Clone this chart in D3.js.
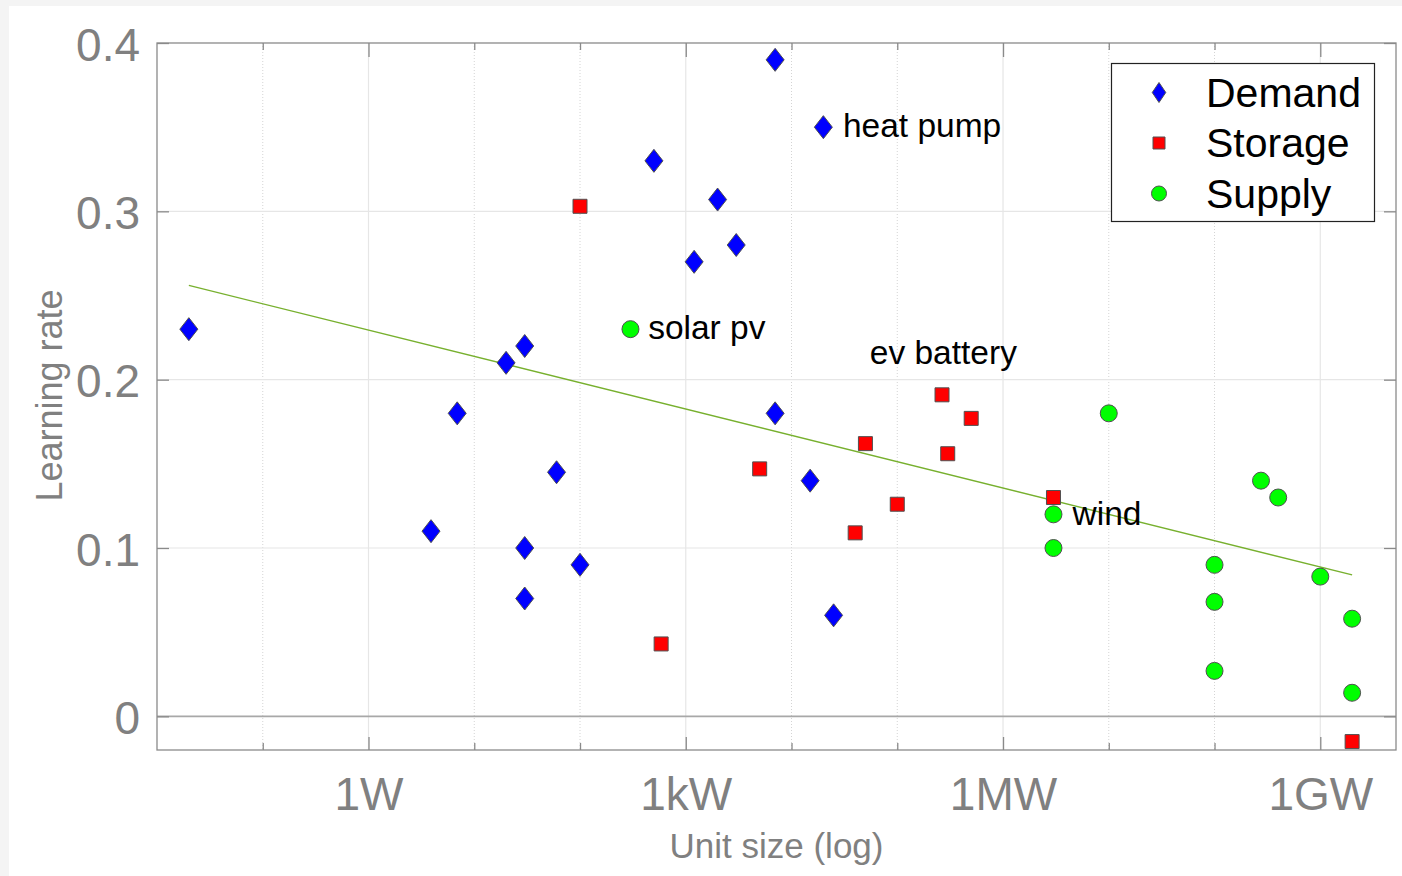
<!DOCTYPE html>
<html>
<head>
<meta charset="utf-8">
<script src="https://cdn.jsdelivr.net/npm/d3@7"></script>
<style>
  body { margin: 0; background: #f4f4f4; }
  svg { display: block; font-family: "Liberation Sans", Arial, sans-serif; }
</style>
</head>
<body>
<svg id="chart" width="1402" height="876"></svg>
<script>
// unit size in watts, learning rate
const demandX = [0.02, 3.9, 6.9, 20, 30, 30, 30, 60, 100, 500, 1200, 2000, 3000, 7000, 7000, 15000, 20000, 25000];
const demandY = [0.23, 0.11, 0.18, 0.21, 0.22, 0.10, 0.07, 0.145, 0.09, 0.33, 0.27, 0.307, 0.28, 0.39, 0.18, 0.14, 0.35, 0.06];

const storageX = [100, 585, 5000, 40000, 50000, 100000, 265000, 300000, 500000, 3e6, 2e9];
const storageY = [0.303, 0.043, 0.147, 0.109, 0.162, 0.126, 0.191, 0.156, 0.177, 0.13, -0.015];

const supplyX = [300, 3e6, 3e6, 1e7, 1e8, 1e8, 1e8, 2.75e8, 4e8, 1e9, 2e9, 2e9];
const supplyY = [0.23, 0.12, 0.10, 0.18, 0.09, 0.068, 0.027, 0.14, 0.13, 0.083, 0.058, 0.014];

// fitted trend, end points
const trendX = [0.02, 2e9];
const trendY = [0.256, 0.084];

const xMajor = [1, 1e3, 1e6, 1e9];
const xMajorLabels = ['1W', '1kW', '1MW', '1GW'];
const xMinor = [0.1, 10, 100, 1e4, 1e5, 1e7, 1e8];
const yTicks = [0, 0.1, 0.2, 0.3, 0.4];
const yTickLabels = ['0', '0.1', '0.2', '0.3', '0.4'];

const legendNames = ['Demand', 'Storage', 'Supply'];
const annoText = ['heat pump', 'solar pv', 'ev battery', 'wind'];
const annoX = [30600, 441, 55000, 4.55e6];
const annoY = [0.344, 0.224, 0.2095, 0.1137];

const pLeft = 157, pRight = 1396, pTop = 43, pBottom = 750;
const axisGrey = '#8a8a8a';
const labelGrey = '#808080';

const svg = d3.select('#chart');

svg.append('rect').attr('x', 9).attr('y', 6).attr('width', 1393).attr('height', 870).attr('fill', '#fff');

const x = d3.scaleLog().domain([0.01, 5.2e9]).range([pLeft, pRight]);
const y = d3.scaleLinear().domain([-0.02, 0.4]).range([pBottom, pTop]);

// grid
svg.append('g').selectAll('line').data(xMinor).enter().append('line')
    .attr('x1', d => x(d)).attr('x2', d => x(d)).attr('y1', pTop).attr('y2', pBottom)
    .attr('stroke', '#d4d4d4').attr('stroke-width', 1).attr('stroke-dasharray', '1,2');
svg.append('g').selectAll('line').data(xMajor).enter().append('line')
    .attr('x1', d => x(d)).attr('x2', d => x(d)).attr('y1', pTop).attr('y2', pBottom)
    .attr('stroke', '#e6e6e6').attr('stroke-width', 1.2);
svg.append('g').selectAll('line').data(yTicks.filter(d => d > 0 && d < 0.4)).enter().append('line')
    .attr('x1', pLeft).attr('x2', pRight).attr('y1', d => y(d)).attr('y2', d => y(d))
    .attr('stroke', '#e6e6e6').attr('stroke-width', 1.2);

// zero line
svg.append('line')
    .attr('x1', pLeft).attr('x2', pRight).attr('y1', y(0)).attr('y2', y(0))
    .attr('stroke', '#a8a8a8').attr('stroke-width', 1.6);

// axes (ticks point inward, on all four sides)
function styleAxis(g) {
    g.select('.domain').remove();
    g.selectAll('.tick line').attr('stroke', axisGrey).attr('stroke-width', 1.3);
    g.selectAll('.tick text').attr('fill', labelGrey).style('font-size', '46px');
}

svg.append('g').attr('transform', `translate(0,${pBottom})`)
    .call(d3.axisBottom(x).tickValues(xMajor).tickSize(-13).tickPadding(0)
        .tickFormat((d, i) => xMajorLabels[i]))
    .call(styleAxis)
    .call(g => g.selectAll('.tick text').attr('y', 60).attr('dy', 0));
svg.append('g').attr('transform', `translate(0,${pBottom})`)
    .call(d3.axisBottom(x).tickValues(xMinor).tickSize(-7).tickFormat(''))
    .call(styleAxis);
svg.append('g').attr('transform', `translate(0,${pTop})`)
    .call(d3.axisTop(x).tickValues(xMajor).tickSize(-14).tickFormat(''))
    .call(styleAxis);
svg.append('g').attr('transform', `translate(0,${pTop})`)
    .call(d3.axisTop(x).tickValues(xMinor).tickSize(-7).tickFormat(''))
    .call(styleAxis);

svg.append('g').attr('transform', `translate(${pLeft},0)`)
    .call(d3.axisLeft(y).tickValues(yTicks).tickSize(-12).tickPadding(0)
        .tickFormat((d, i) => yTickLabels[i]))
    .call(styleAxis)
    .call(g => g.selectAll('.tick text').attr('x', -17).attr('dy', 17));
svg.append('g').attr('transform', `translate(${pRight},0)`)
    .call(d3.axisRight(y).tickValues(yTicks).tickSize(-12).tickFormat(''))
    .call(styleAxis);

// box
svg.append('rect')
    .attr('x', pLeft).attr('y', pTop).attr('width', pRight - pLeft).attr('height', pBottom - pTop)
    .attr('fill', 'none').attr('stroke', axisGrey).attr('stroke-width', 1.3);

// axis titles
svg.append('text')
    .attr('x', (pLeft + pRight) / 2).attr('y', 858)
    .attr('text-anchor', 'middle').attr('fill', labelGrey).style('font-size', '35px')
    .text('Unit size (log)');
svg.append('text')
    .attr('transform', `translate(62,${(pTop + pBottom) / 2 - 1}) rotate(-90)`)
    .attr('text-anchor', 'middle').attr('fill', labelGrey).style('font-size', '36px')
    .text('Learning rate');

// trend line
const trend = trendX.map((d, i) => [d, trendY[i]]);
svg.append('path')
    .datum(trend)
    .attr('d', d3.line().x(d => x(d[0])).y(d => y(d[1])))
    .attr('fill', 'none').attr('stroke', '#77b02e').attr('stroke-width', 1.4);

// markers
const diamond = (w, h) => `M0,${-h / 2}L${w / 2},0L0,${h / 2}L${-w / 2},0Z`;
const square = s => `M${-s / 2},${-s / 2}h${s}v${s}h${-s}Z`;
const circle = r => `M${r},0A${r},${r} 0 1,1 ${-r},0A${r},${r} 0 1,1 ${r},0Z`;

function plotSeries(xs, ys, shape, fill) {
    svg.append('g').selectAll('path')
        .data(xs.map((d, i) => [d, ys[i]]))
        .enter().append('path')
        .attr('d', shape)
        .attr('transform', d => `translate(${x(d[0])},${y(d[1])})`)
        .attr('fill', fill).attr('stroke', '#505050').attr('stroke-width', 1);
}

plotSeries(storageX, storageY, square(14), '#ff0000');
plotSeries(supplyX, supplyY, circle(8.5), '#00ff00');
plotSeries(demandX, demandY, diamond(18, 23), '#0000ff');

// annotations
svg.append('g').selectAll('text')
    .data(annoText).enter().append('text')
    .attr('x', (d, i) => x(annoX[i])).attr('y', (d, i) => y(annoY[i]))
    .attr('fill', '#000').style('font-size', '33.5px')
    .text(d => d);

// legend
const legend = svg.append('g');
legend.append('rect')
    .attr('x', 1111.5).attr('y', 63.5).attr('width', 263).attr('height', 158)
    .attr('fill', '#fff').attr('stroke', '#222').attr('stroke-width', 1.2);
const legendShapes = [diamond(13.5, 20), square(12), circle(7.5)];
const legendFills = ['#0000ff', '#ff0000', '#00ff00'];
legendNames.forEach((name, i) => {
    const cy = 92.5 + i * 50.5;
    legend.append('path')
        .attr('d', legendShapes[i])
        .attr('transform', `translate(1159,${cy})`)
        .attr('fill', legendFills[i]).attr('stroke', '#505050').attr('stroke-width', 1);
    legend.append('text')
        .attr('x', 1206).attr('y', cy + 14)
        .attr('fill', '#000').style('font-size', '41px')
        .text(name);
});
</script>
</body>
</html>
